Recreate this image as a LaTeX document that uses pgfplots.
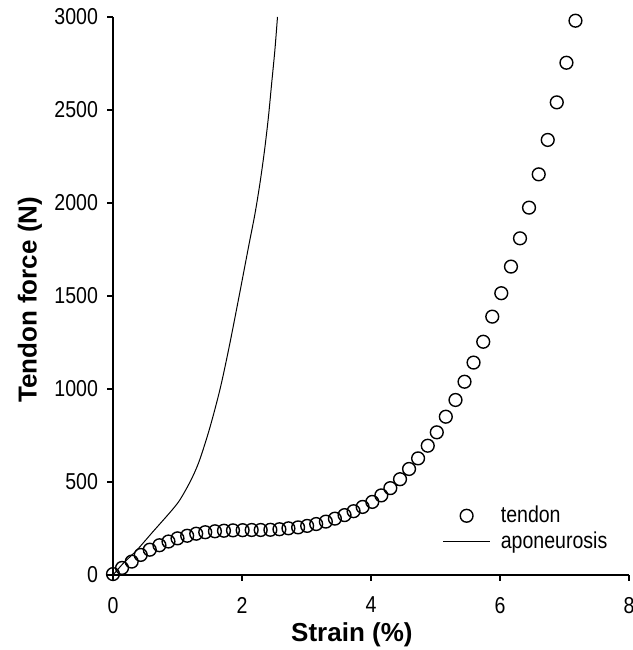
\documentclass[border=0pt]{standalone}
\usepackage{fontspec}
\setmainfont{Liberation Sans}
\newfontfamily\narrowfont{Liberation Sans}[FakeStretch=0.85]
\usepackage{pgfplots}
\pgfplotsset{compat=1.18}
\pgfplotsset{
  markleg/.style={legend image code/.code={\path (0pt,0pt) (27pt,0pt);
    \draw[##1] plot coordinates {(11.75pt,0pt)};}},
  lineleg/.style={legend image code/.code={\path (0pt,0pt) (27pt,0pt);
    \draw[##1] (0pt,0pt) -- (23.5pt,0pt);}},
}

% tendon: force vs strain, sampled at equal strain steps
\pgfplotstableread{
x y
0.00 5
0.14 38
0.29 72
0.43 108
0.57 136
0.72 160
0.86 180
1.00 197
1.15 211
1.29 222
1.43 230
1.58 235
1.72 238
1.86 240
2.01 241
2.15 242
2.29 242
2.44 243
2.58 246
2.72 251
2.87 256
3.01 264
3.15 274
3.30 287
3.44 303
3.59 322
3.73 343
3.87 366
4.02 393
4.16 428
4.30 467
4.45 515
4.59 570
4.73 627
4.88 695
5.02 767
5.16 851
5.31 941
5.45 1039
5.59 1142
5.74 1254
5.88 1389
6.02 1515
6.17 1658
6.31 1810
6.45 1975
6.60 2154
6.74 2339
6.88 2541
7.03 2754
7.17 2980
}\tendon

\pgfplotstableread{
x y
0.00 0
0.16 63
0.37 134
0.62 233
0.88 335
1.02 395
1.14 465
1.25 540
1.35 625
1.50 790
1.66 1000
1.80 1225
1.95 1490
2.11 1780
2.20 1940
2.28 2110
2.35 2285
2.41 2464
2.46 2644
2.51 2823
2.55 3000
}\aponeurosis

\begin{document}
\begin{tikzpicture}
\begin{axis}[
  scale only axis, width=258pt, height=279pt,
  xmin=0, xmax=8, ymin=0, ymax=3000,
  clip=false,
  axis lines=left, axis line style={-, line width=1pt},
  tick align=outside, major tick length=3pt,
  tick style={line width=0.8pt, black},
  xtick={0,2,...,8}, ytick={0,500,...,3000},
  tick label style={font=\narrowfont\fontsize{11.5}{12}\selectfont},
  /pgf/number format/assume math mode=true,
  /pgf/number format/1000 sep={},
  xticklabel style={yshift=-4.5pt},
  yticklabel style={xshift=-1pt},
  xlabel={Strain (\%)},
  ylabel={Tendon force (N)},
  every axis x label/.style={at={(axis description cs:0.463,-0.108)}, anchor=center,
    font=\bfseries\fontsize{13}{15}\selectfont},
  every axis y label/.style={at={(axis description cs:-0.161,0.493)}, rotate=90, anchor=center,
    font=\bfseries\fontsize{13}{15}\selectfont},
  legend style={draw=none, fill=none, at={(rel axis cs:0.626,0.137)}, anchor=north west,
    font=\narrowfont\fontsize{11.5}{13.5}\selectfont, row sep=0pt,
    nodes={inner sep=1.5pt}},
  legend cell align=left,
]
\addplot[only marks, mark=o, mark size=3.2pt, line width=0.7pt, black, markleg]
  table[x=x, y=y] {\tendon};
\addlegendentry{tendon}
\addplot[black, line width=0.5pt, no marks, smooth, lineleg]
  table[x=x, y=y] {\aponeurosis};
\addlegendentry{aponeurosis}
\end{axis}
\pgfresetboundingbox
\path[use as bounding box] ([xshift=-56.5pt,yshift=-37.5pt]current axis.south west)
  rectangle ([xshift=2pt,yshift=8.5pt]current axis.north east);
\end{tikzpicture}
\end{document}
